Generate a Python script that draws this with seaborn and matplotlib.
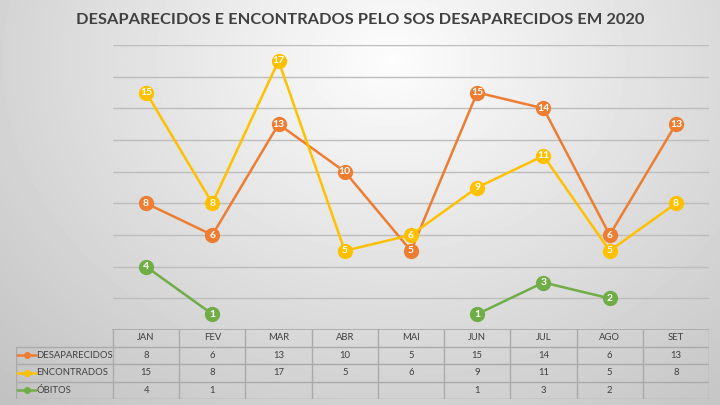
import numpy as np
import seaborn as sns
import matplotlib.pyplot as plt

months = ["JAN", "FEV", "MAR", "ABR", "MAI", "JUN", "JUL", "AGO", "SET"]
desaparecidos = [8, 6, 13, 10, 5, 15, 14, 6, 13]
encontrados = [15, 8, 17, 5, 6, 9, 11, 5, 8]
obitos = [4, 1, None, None, None, 1, 3, 2, None]

series = [
    ("DESAPARECIDOS", desaparecidos, "#ED7D31"),
    ("ENCONTRADOS", encontrados, "#FFC000"),
    ("ÓBITOS", obitos, "#70AD47"),
]

sns.set_theme(style="white")
plt.rcParams['font.family'] = ['Lato', 'DejaVu Sans']

W, H = 720, 405
fig = plt.figure(figsize=(7.2, 4.05), dpi=100)

# background gradient
bg = fig.add_axes([0, 0, 1, 1], zorder=-10)
yy, xx = np.mgrid[0:H, 0:W]
r = np.sqrt(((xx - 390) / 540.0) ** 2 + ((yy - 60) / 440.0) ** 2)
shade = np.clip(0.99 - 0.22 * r, 0.76, 0.99)
bg.imshow(shade, cmap="gray", vmin=0, vmax=1, aspect="auto", extent=[0, 1, 0, 1])
bg.axis("off")

def px(x0, y0, x1, y1):
    return [x0 / W, 1 - y1 / H, (x1 - x0) / W, (y1 - y0) / H]

ax = fig.add_axes(px(113, 45, 709, 330))
ax.patch.set_alpha(0)
x = np.arange(len(months))

for name, vals, color in series:
    v = np.array([np.nan if a is None else a for a in vals], dtype=float)
    # split into contiguous runs so gaps stay open
    runs, cur = [], []
    for i, a in enumerate(v):
        if np.isnan(a):
            if cur:
                runs.append(cur)
            cur = []
        else:
            cur.append(i)
    if cur:
        runs.append(cur)
    for run in runs:
        sns.lineplot(x=x[run], y=v[run], ax=ax, color=color, linewidth=1.8,
                     marker="o", markersize=11, markeredgewidth=0, sort=False)
    for i, a in enumerate(v):
        if not np.isnan(a):
            ax.text(i, a, f"{int(a)}", ha="center", va="center", color="white",
                    fontsize=7.5, fontweight="bold", zorder=5)

ax.set_xlim(-0.5, len(months) - 0.5)
ax.set_ylim(0, 18)
ax.set_yticks(np.arange(2, 19, 2))
ax.yaxis.grid(True, color="#bdbdbd", linewidth=1)
ax.tick_params(left=False, bottom=False, labelleft=False, labelbottom=False)
for s in ax.spines.values():
    s.set_visible(False)

# data table below
tab = fig.add_axes(px(16, 329, 709, 399))
tab.patch.set_alpha(0)
left = -0.5 - 97 / 66.2
tab.set_xlim(left, len(months) - 0.5)
tab.set_ylim(4, 0)
tab.axis("off")
lc = "#aaaaaa"
tab.plot([-0.5, 8.5], [0, 0], color=lc, lw=1.3)
for rr in [1, 2, 3, 4]:
    tab.plot([left, 8.5], [rr, rr], color=lc, lw=1)
tab.plot([left, left], [1, 4], color=lc, lw=1)
for c in np.arange(-0.5, 9, 1):
    tab.plot([c, c], [0, 4], color=lc, lw=1)

fs = 6.8
for i, m in enumerate(months):
    tab.text(i, 0.5, m, ha="center", va="center", fontsize=fs, color="#404040")
for rr, (name, vals, color) in enumerate(series, start=1):
    for i, a in enumerate(vals):
        if a is not None:
            tab.text(i, rr + 0.5, str(a), ha="center", va="center", fontsize=fs, color="#404040")
    tab.plot([left + 0.02, left + 0.3], [rr + 0.5, rr + 0.5], color=color, lw=1.8)
    tab.plot([left + 0.16], [rr + 0.5], "o", color=color, markersize=4)
    tab.text(left + 0.31, rr + 0.5, name, ha="left", va="center", fontsize=fs, color="#404040")

fig.text(0.5, 1 - 20 / H, "DESAPARECIDOS E ENCONTRADOS PELO SOS DESAPARECIDOS EM 2020",
         ha="center", va="center", fontsize=11.8, fontweight="bold", color="#404040")

fig.savefig("out.png", dpi=100)
